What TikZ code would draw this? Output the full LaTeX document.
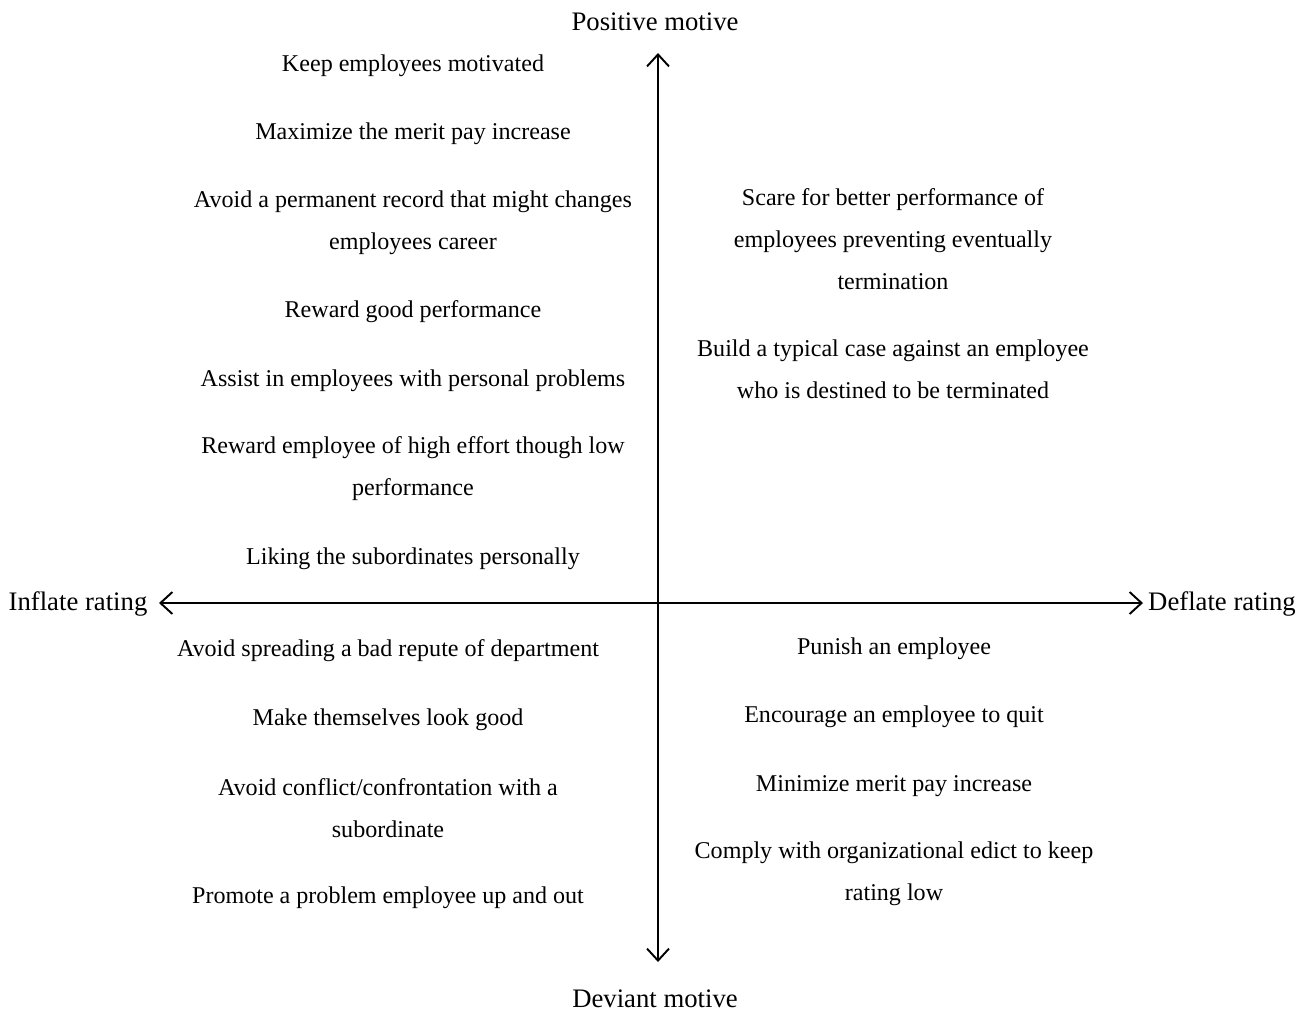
\documentclass[tikz,border=0pt]{standalone}
\usepackage{fontspec}
\setmainfont{Liberation Serif}
\usetikzlibrary{arrows.meta}

\tikzset{
  motive/.style={align=center, font=\fontsize{13.7}{23.9}\selectfont},
  axislabel/.style={font=\fontsize{15.2}{18}\selectfont},
  axis/.style={line width=1.1pt, {Straight Barb[length=2.4mm,width=4.4mm]}-{Straight Barb[length=2.4mm,width=4.4mm]}}
}

\begin{document}
\begin{tikzpicture}[x=0.02cm,y=-0.02cm]
\useasboundingbox (0,0) rectangle (1309,1012);

% axes
\coordinate (top) at (658,53);
\coordinate (bottom) at (658,962);
\coordinate (left) at (159,603);
\coordinate (right) at (1143,603);
\draw [axis] (top) -- (bottom);
\draw [axis] (left) -- (right);

\node (pos) at (655,22) [axislabel] {Positive motive};
\node (dev) at (655,999) [axislabel] {Deviant motive};
\node (inf) at (78,604) [axislabel] {Inflate rating};
\node (def) at (1222,604) [axislabel] {Deflate rating};

% inflate, positive
\node (keep) at (413,66) [motive] {Keep employees motivated};
\node (maxpay) at (413,134) [motive] {Maximize the merit pay increase};
\node (record) at (413,223) [motive] {Avoid a permanent record that might changes\\employees career};
\node (reward) at (413,312) [motive] {Reward good performance};
\node (assist) at (413,381) [motive] {Assist in employees with personal problems};
\node (effort) at (413,469) [motive] {Reward employee of high effort though low\\performance};
\node (liking) at (413,559) [motive] {Liking the subordinates personally};

% deflate, positive
\node (scare) at (893,239) [motive] {Scare for better performance of\\employees preventing eventually\\termination};
\node (case) at (893,369) [motive] {Build a typical case against an employee\\who is destined to be terminated};

% inflate, deviant
\node (repute) at (388,651) [motive] {Avoid spreading a bad repute of department};
\node (good) at (388,720) [motive] {Make themselves look good};
\node (conflict) at (388,808) [motive] {Avoid conflict/confrontation with a\\subordinate};
\node (promote) at (388,898) [motive] {Promote a problem employee up and out};

% deflate, deviant
\node (punish) at (894,649) [motive] {Punish an employee};
\node (quit) at (894,717) [motive] {Encourage an employee to quit};
\node (minpay) at (894,786) [motive] {Minimize merit pay increase};
\node (edict) at (894,874) [motive] {Comply with organizational edict to keep\\rating low};
\end{tikzpicture}
\end{document}
